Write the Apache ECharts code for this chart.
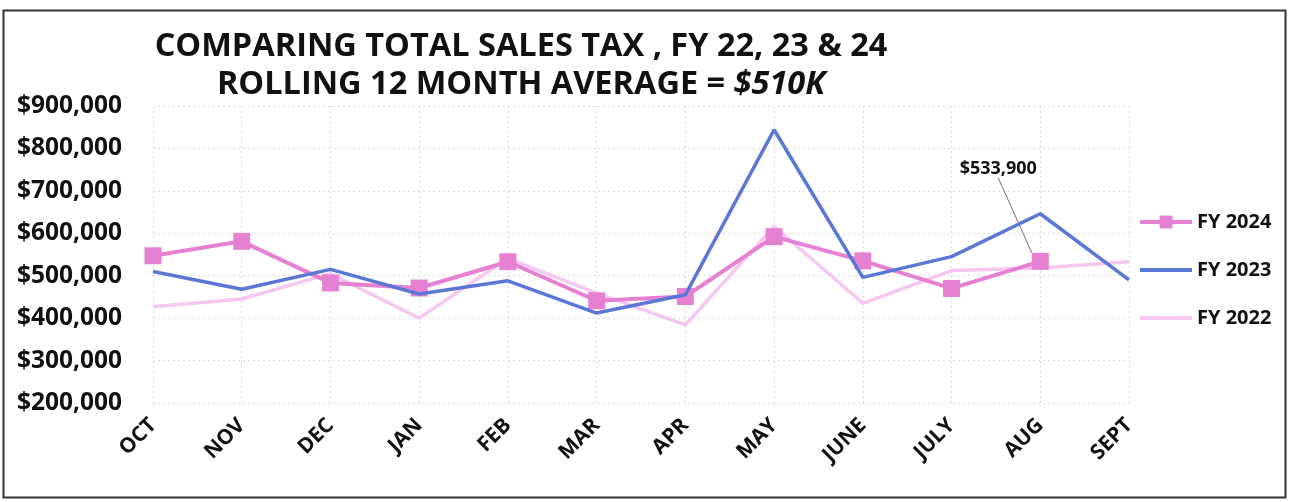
<!DOCTYPE html>
<html>
<head>
<meta charset="utf-8">
<script src="https://cdn.jsdelivr.net/npm/echarts@6/dist/echarts.min.js"></script>
<style>
  html, body { margin: 0; padding: 0; background: #fff; }
  #main { width: 1289px; height: 502px; }
</style>
</head>
<body>
<div id="main"></div>
<script>
// months of the fiscal year
const months = ['OCT', 'NOV', 'DEC', 'JAN', 'FEB', 'MAR', 'APR', 'MAY', 'JUNE', 'JULY', 'AUG', 'SEPT'];

// values
const fy2024 = [547000, 581000, 483000, 471000, 533000, 441000, 451000, 592000, 535000, 470000, 533900, null];
const fy2023 = [510000, 468000, 515000, 457000, 488000, 412000, 455000, 844000, 496000, 545000, 646000, 490000];
const fy2022 = [427000, 445000, 505000, 400000, 541000, 459000, 384000, 616000, 435000, 512000, 518000, 533000];

const yTicks = [200000, 300000, 400000, 500000, 600000, 700000, 800000, 900000];
const fontFam = '"Open Sans", "DejaVu Sans", sans-serif';

function money (v) {
  return '$' + v.toLocaleString('en-US');
}

const chart = echarts.init(document.getElementById('main'));

const option = {
  backgroundColor: '#ffffff',
  animation: false,
  title: {
    left: 516,
    top: 23,
    textAlign: 'center',
    text: '{a|COMPARING TOTAL SALES TAX , FY 22, 23 & 24}\n{a|ROLLING 12 MONTH AVERAGE = }{b|$510K}',
    textStyle: {
      rich: {
        a: { fontFamily: fontFam, fontWeight: 'bold', fontSize: 32.5, color: '#111', lineHeight: 38 },
        b: { fontFamily: fontFam, fontWeight: 'bold', fontStyle: 'italic', fontSize: 32.5, color: '#111', lineHeight: 38 }
      }
    }
  },
  legend: {
    orient: 'vertical',
    left: 1133,
    top: 207,
    itemWidth: 52,
    itemHeight: 16,
    itemGap: 28,
    lineStyle: { width: 4 },
    textStyle: { fontFamily: fontFam, fontWeight: 'bold', fontSize: 20, color: '#111' },
    data: [
      { name: 'FY 2024' },
      { name: 'FY 2023', itemStyle: { opacity: 0 } },
      { name: 'FY 2022', itemStyle: { opacity: 0 } }
    ]
  },
  grid: {
    left: 153,
    right: 160,
    top: 106,
    bottom: 99,
    containLabel: false
  },
  xAxis: {
    type: 'category',
    boundaryGap: false,
    data: months,
    axisLine: { show: false },
    axisTick: { show: false },
    axisLabel: {
      rotate: 45,
      margin: 19,
      fontFamily: fontFam,
      fontWeight: 'bold',
      fontSize: 21,
      color: '#111'
    },
    splitLine: { show: true, lineStyle: { color: '#dcdcdc', type: [2, 3], width: 1 } }
  },
  yAxis: {
    type: 'value',
    min: yTicks[0],
    max: yTicks[yTicks.length - 1],
    interval: 100000,
    axisLine: { show: false },
    axisTick: { show: false },
    axisLabel: {
      margin: 31,
      fontFamily: fontFam,
      fontWeight: 'bold',
      fontSize: 24.5,
      color: '#111',
      formatter: money
    },
    splitLine: { show: true, lineStyle: { color: '#dcdcdc', type: [2, 3], width: 1 } }
  },
  series: [
    {
      name: 'FY 2024',
      type: 'line',
      data: fy2024.map(function (v, i) {
        if (i === 10) {
          return {
            value: v,
            label: { show: true, formatter: money(v), position: 'top', fontFamily: fontFam, fontWeight: 'bold', fontSize: 18, color: '#111' },
            labelLine: { show: true, lineStyle: { color: '#7a6a8a', width: 1 } }
          };
        }
        return v;
      }),
      symbol: 'rect',
      symbolSize: 17,
      lineStyle: { color: '#e681d2', width: 4 },
      itemStyle: { color: '#e681d2' },
      labelLayout: function (params) {
        return params.dataIndex === 10 ? { dx: -42, dy: -70 } : {};
      },
      z: 3
    },
    {
      name: 'FY 2023',
      type: 'line',
      data: fy2023,
      symbol: 'none',
      showSymbol: false,
      lineStyle: { color: '#5a77d6', width: 3.5 },
      itemStyle: { color: '#5a77d6' },
      z: 4
    },
    {
      name: 'FY 2022',
      type: 'line',
      data: fy2022,
      symbol: 'none',
      showSymbol: false,
      lineStyle: { color: '#f6c8ef', width: 3.5 },
      itemStyle: { color: '#f6c8ef' },
      z: 2
    }
  ],
  graphic: [
    {
      type: 'rect',
      shape: { x: 3.5, y: 10.5, width: 1282, height: 487 },
      style: { fill: 'none', stroke: '#333', lineWidth: 2 },
      silent: true,
      z: 100
    }
  ]
};

chart.setOption(option);
</script>
</body>
</html>
